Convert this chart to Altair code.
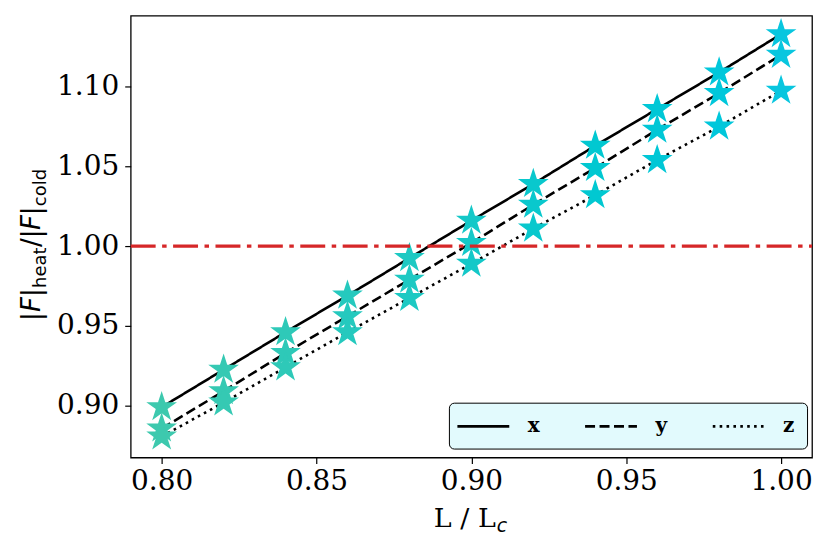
import altair as alt
import pandas as pd

L_vals = [0.80, 0.82, 0.84, 0.86, 0.88, 0.90, 0.92, 0.94, 0.96, 0.98, 1.00]
x_vals = [0.899, 0.9225, 0.946, 0.969, 0.9925, 1.016, 1.039, 1.063, 1.086, 1.109, 1.133]
y_vals = [0.8856, 0.909, 0.933, 0.956, 0.979, 1.002, 1.026, 1.049, 1.073, 1.096, 1.120]
z_vals = [0.8806, 0.9019, 0.924, 0.946, 0.9675, 0.989, 1.011, 1.032, 1.054, 1.075, 1.0975]
series_names = ["x", "y", "z"]
ref_level = [1.0]
x_ticks = [0.80, 0.85, 0.90, 0.95, 1.00]
y_ticks = [0.90, 0.95, 1.00, 1.05, 1.10]

rows = []
for name, vals in zip(series_names, [x_vals, y_vals, z_vals]):
    for L, v in zip(L_vals, vals):
        rows.append({"series": name, "L": L, "F": v})
df = pd.DataFrame(rows)
ref_df = pd.DataFrame({"F": ref_level})

STAR = ("M0,-1L0.2245,-0.309L0.9511,-0.309L0.3633,0.118L0.5878,0.809L0,0.382"
        "L-0.5878,0.809L-0.3633,0.118L-0.9511,-0.309L-0.2245,-0.309Z")
LEG_LINE = "M-2.6,0L2.6,0"

xs = alt.Scale(domain=[0.79, 1.01], nice=False, zero=False)
ys = alt.Scale(domain=[0.8674, 1.1446], nice=False, zero=False)

SERIF = "DejaVu Serif"
SANS = "DejaVu Sans"

xenc = alt.X("L:Q", scale=xs,
             axis=alt.Axis(values=x_ticks, format=".2f", title=None, domain=False,
                           grid=False, tickColor="black", tickSize=6, tickWidth=1.2,
                           labelFont=SERIF, labelFontSize=28, labelColor="black",
                           labelPadding=4))
yenc = alt.Y("F:Q", scale=ys,
             axis=alt.Axis(values=y_ticks, format=".2f", title=None, domain=False,
                           grid=False, tickColor="black", tickSize=6, tickWidth=1.2,
                           labelFont=SERIF, labelFontSize=28, labelColor="black",
                           labelPadding=6))

lines = alt.Chart(df).mark_line(strokeWidth=2.6, color="black").encode(
    x=xenc,
    y=yenc,
    strokeDash=alt.StrokeDash(
        "series:N",
        scale=alt.Scale(domain=series_names, range=[[1, 0], [10, 4.5], [2.6, 4.3]]),
        legend=alt.Legend(title=None, orient="none", legendX=319, legendY=388,
                          direction="horizontal", columns=3,
                          fillColor="#e2fafd", strokeColor="black", cornerRadius=5,
                          padding=12, symbolSize=400, symbolStrokeWidth=2.6,
                          symbolStrokeColor="black", symbolType=LEG_LINE,
                          symbolOffset=11,
                          labelFont=SERIF, labelFontSize=20, labelFontWeight="bold",
                          labelColor="black", labelOffset=33, columnPadding=40),
    ),
    detail="series:N",
)

stars = alt.Chart(df).mark_point(shape=STAR, filled=True, opacity=1, strokeWidth=0).encode(
    x=alt.X("L:Q", scale=xs),
    y=alt.Y("F:Q", scale=ys),
    color=alt.Color("L:Q", scale=alt.Scale(domain=[0.80, 1.00], range=["#3dc9ae", "#08c6df"]),
                    legend=None),
    size=alt.value(1050),
)

ref = alt.Chart(ref_df).mark_rule(color="#d62728", strokeWidth=3.3,
                                  strokeDash=[25, 6.5, 4.5, 6.5]).encode(
    y=alt.Y("F:Q", scale=ys),
    x=alt.value(0), x2=alt.value(683),
)

def txt(s, x, y, font, size, style="normal", align="left", angle=0):
    return alt.Chart(pd.DataFrame({"t": [s]})).mark_text(
        font=font, fontSize=size, fontStyle=style, align=align, baseline="alphabetic",
        angle=angle, color="black").encode(
        text="t:N", x=alt.value(x), y=alt.value(y))

# x title: L / L_c
xt1 = txt("L / L", 366, 513, SERIF, 27, align="right")
xt2 = txt("c", 367, 518, SANS, 19, style="italic")

# y title: |F|heat/|F|cold, rotated
bx = -91
sx = -85
A = 270
yt = [
    txt("|", bx, 306, SANS, 26, angle=A),
    txt("F", bx, 297, SANS, 26, style="italic", angle=A),
    txt("|", bx, 282, SANS, 26, angle=A),
    txt("heat", sx, 273, SANS, 18, angle=A),
    txt("/|", bx, 232, SANS, 26, angle=A),
    txt("F", bx, 215, SANS, 26, style="italic", angle=A),
    txt("|", bx, 200, SANS, 26, angle=A),
    txt("cold", sx, 191, SANS, 18, angle=A),
]

chart = alt.layer(lines, stars, ref, xt1, xt2, *yt).properties(
    width=683, height=443,
    autosize=alt.AutoSizeParams(type="none"),
    padding={"left": 123, "top": 7, "right": 10, "bottom": 80},
).configure(background="white").configure_view(stroke="black", strokeWidth=1.3)

chart.save("out.html", embed_options={"renderer": "svg", "actions": False})
